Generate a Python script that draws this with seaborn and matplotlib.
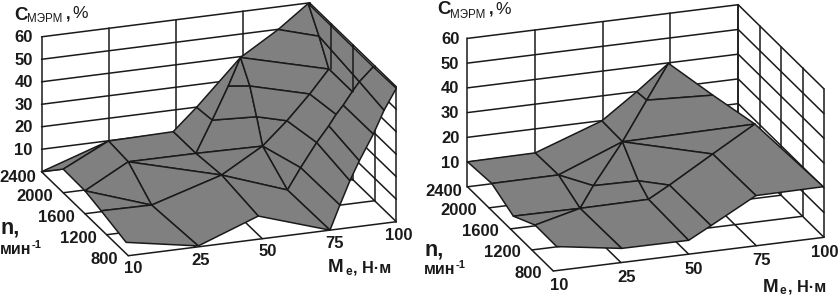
import matplotlib
matplotlib.use("Agg")
import matplotlib.pyplot as plt
import seaborn as sns
from mpl_toolkits.mplot3d import proj3d
from mpl_toolkits.mplot3d.art3d import Poly3DCollection

# ---- axes values
M_labels = ["10", "25", "50", "75", "100"]
M_pos = [0, 1, 2, 3, 4]
n_ticks = [800, 1200, 1600, 2000, 2400]
C_ticks = [10, 20, 30, 40, 50, 60]

# ---- left surface: mesh nodes (M scale position, speed, C %)
left_M = [0, 1.0, 1.965, 2.313, 2.97, 3.532, 3.98, 0, 0, 0, 0, 1.045, 1.94, 3.01, 4.0,
          0.97, 0.995, 1.98, 2.04, 2.975, 2.99, 3.22, 3.46, 3.64, 3.75, 3.856, 3.99,
          4.0, 3.98, 3.98, 3.82, 3.61, 3.47, 3.32, 3.965, 3.98, 3.68, 3.34, 2.386,
          2.886, 2.625, 2.786]
left_n = [2400, 2400, 2400, 2400, 2400, 2400, 2400, 2000, 1600, 1300, 840, 800, 800, 800, 800,
          2000, 1600, 2000, 1600, 2000, 1560, 1600, 1600, 1600, 1600, 1600, 1600,
          1480, 1200, 1000, 1000, 1000, 1000, 1000, 2000, 2200, 2000, 2000, 2200,
          2000, 2200, 2000]
left_C = [0, 9.9, 10.4, 19.9, 39.6, 49.9, 59.8, 10.5, 10.2, 8.3, 5.0, 0.4, 10.3, 0.0, 59.3,
          10.1, 0.1, 10.0, 9.5, 9.5, 0.2, 8.3, 18.6, 25.3, 30.0, 33.7, 39.2,
          46.4, 59.6, 45.0, 35.0, 23.9, 15.6, 5.3, 40.0, 49.9, 30.0, 19.4, 18.6,
          22.9, 32.8, 36.9]
left_faces = [[0, 7, 1], [7, 8, 15, 1], [8, 9, 16], [8, 16, 15], [9, 10, 11, 16], [15, 16, 18],
              [16, 11, 12, 18], [1, 15, 17, 2], [15, 18, 17], [17, 18, 19], [18, 20, 19],
              [18, 12, 13, 20], [2, 3, 38, 17], [17, 38, 39, 19], [3, 4, 40, 38],
              [38, 40, 41, 39], [4, 41, 40], [39, 41, 36, 37], [19, 39, 37], [41, 4, 34, 36],
              [4, 5, 35, 34], [5, 6, 35], [19, 37, 22, 21], [19, 21, 20], [20, 21, 33, 13],
              [21, 22, 32, 33], [37, 36, 24, 23, 22], [36, 34, 26, 25, 24], [22, 23, 31, 32],
              [23, 24, 25, 30, 31], [34, 35, 27, 26], [35, 6, 28, 27], [25, 26, 27, 29, 30],
              [27, 28, 14, 29]]
left_wall_over = [(2000, 40.0), (1600, 39.2)]

# ---- right surface
right_M = [0, 1.0, 1.985, 2.5, 2.97, 3.467, 3.93, 3.99, 2.995, 2.33, 2.0, 1.01, 0.05, 0.047,
           0.044, 0.042, 1.027, 1.03, 1.385, 1.973, 2.05, 2.04, 2.35, 2.99, 2.49]
right_n = [2400, 2400, 2400, 2400, 2400, 2200, 2000, 800, 800, 800, 800, 800, 800, 1200,
           1600, 2000, 2000, 1600, 1800, 2000, 1800, 1600, 1600, 1600, 2200]
right_C = [10.1, 10.3, 19.9, 29.9, 39.8, 29.5, 20.5, 20.5, 20.3, 10.4, 5.6, 5.7, 9.7, 9.9,
           5.0, 9.7, 9.8, 4.8, 8.5, 20.0, 8.2, 5.0, 9.7, 20.1, 30.8]
right_faces = [[0, 15, 16, 1], [15, 14, 17, 16], [14, 13, 17], [13, 12, 11, 17], [1, 16, 19, 2],
               [16, 18, 19], [16, 17, 18], [18, 20, 19], [17, 21, 20, 18], [17, 11, 10, 21],
               [20, 22, 23, 19], [20, 21, 22], [21, 10, 9, 22], [22, 9, 8, 23], [23, 8, 7, 6],
               [19, 23, 6], [19, 6, 5, 24], [2, 19, 24, 3], [3, 24, 4], [24, 5, 4]]

sns.set_theme(style="white")
plt.rcParams["font.family"] = ["Liberation Sans", "DejaVu Sans"]
W, H = 840, 297
fig = plt.figure(figsize=(W / 100, H / 100), dpi=100, facecolor="white")
GRAY = "#808080"
LW = 1.1


def place(ax, origin, span):
    S, L, B = 600.0, 0.0, 0.0
    def setp():
        ax.set_position([L / W, B / H, S / W, S / H])
        ax.apply_aspect()
    setp()
    M = ax.get_proj()
    a = proj3d.proj_transform(0, 800, 0, M)[:2]
    b = proj3d.proj_transform(4, 800, 0, M)[:2]
    S *= span / (ax.transData.transform(b)[0] - ax.transData.transform(a)[0])
    setp()
    pa = ax.transData.transform(a)
    L += origin[0] - pa[0]
    B += (H - origin[1]) - pa[1]
    setp()


def label_at(ax, m, n, c, s, ha, size):
    x, y = proj3d.proj_transform(m, n, c, ax.get_proj())[:2]
    px = ax.transData.transform((x, y))
    fig.text(px[0] / W, px[1] / H, s, ha=ha, va="center", fontweight="bold", fontsize=size, color="k")


def chart(elev, azim, aspect, Ms, ns, Cs, faces, origin, span, lab):
    ax = fig.add_axes([0, 0, 1, 1], projection="3d", computed_zorder=False)
    ax.set_proj_type("ortho")
    ax.view_init(elev=elev, azim=azim)
    ax.set_axis_off()
    ax.patch.set_visible(False)
    for m in M_pos:
        ax.plot([m, m], [800, 2400], [0, 0], "k", lw=LW, zorder=1)
        ax.plot([m, m], [2400, 2400], [0, 60], "k", lw=LW, zorder=1)
    for n in n_ticks:
        ax.plot([0, 4], [n, n], [0, 0], "k", lw=LW, zorder=1)
        ax.plot([4, 4], [n, n], [0, 60], "k", lw=LW, zorder=1)
    for c in C_ticks:
        ax.plot([0, 4], [2400, 2400], [c, c], "k", lw=LW, zorder=1)
        ax.plot([4, 4], [800, 2400], [c, c], "k", lw=LW, zorder=1)
    verts = [[(Ms[k], ns[k], Cs[k]) for k in f] for f in faces]
    ax.add_collection3d(Poly3DCollection(verts, facecolors=GRAY, edgecolors="k",
                                         linewidths=LW, zorder=2), autolim=False)
    ax.set_xlim(0, 4)
    ax.set_ylim(800, 2400)
    ax.set_zlim(0, 60)
    ax.set_box_aspect(aspect)
    place(ax, origin, span)
    fs = lab["fs"]
    for m, t in zip(M_pos, M_labels):
        shift = lab["m_last"] if t == M_labels[-1] else 0.08
        label_at(ax, m + shift, 800, lab["mz"], t, "center", fs)
    for n in n_ticks:
        ni = lab["ni"] * 0.5 if n == n_ticks[-1] else lab["ni"]
        nz = lab["nz"] - 1.0 if n == n_ticks[-1] else lab["nz"]
        label_at(ax, ni, n, nz, str(n), "right", fs)
    for c in C_ticks:
        label_at(ax, lab["ci"], 2400, c, str(c), "right", fs)
    return ax


axL = chart(20.5, 250.1, (285.1, 255.0, 144.1), left_M, left_n, left_C, left_faces,
            (128.3, 255.7), 268.0, dict(fs=12, mz=-6.2, ni=-0.15, nz=-1.3, ci=-0.13, m_last=0.03))
for n, c in left_wall_over:
    axL.plot([4, 4], [n, n], [c, 60], "k", lw=LW, zorder=3)

axR = chart(20.45, 250.4, (287.4, 255.9, 158.4), right_M, right_n, right_C, right_faces,
            (553.3, 271.0), 270.7, dict(fs=12, mz=-6.3, ni=-0.17, nz=-0.5, ci=-0.12, m_last=0.005))


def put(x, y, s, size, weight="normal"):
    fig.text(x / W, 1 - y / H, s, fontsize=size, fontweight=weight, ha="left", va="center", color="k")


def titles(yc, xc, me, nx, ny, my):
    put(xc, yc, "C", 13.5, "bold")
    put(xc + 13, yc + 4.5, "МЭРМ", 8.3)
    put(xc + 52, yc, ",", 12, "bold")
    put(xc + 58, yc - 1, "%", 12.5)
    put(me[0], me[1], "M", 13.5, "bold")
    put(me[0] + 17, me[1] + 4, "е", 8.5, "bold")
    put(me[0] + 25, me[1], ", Н·м", 11.7, "bold")
    put(nx, ny, "n,", 15.5, "bold")
    put(nx, my, "мин", 11.5, "bold")
    put(nx + 32, my - 5, "-1", 8, "bold")


titles(15, 14, (328, 268), 0, 228, 250)
titles(10, 437, (763, 287), 424, 250, 270)

fig.savefig("out.png", dpi=100)
